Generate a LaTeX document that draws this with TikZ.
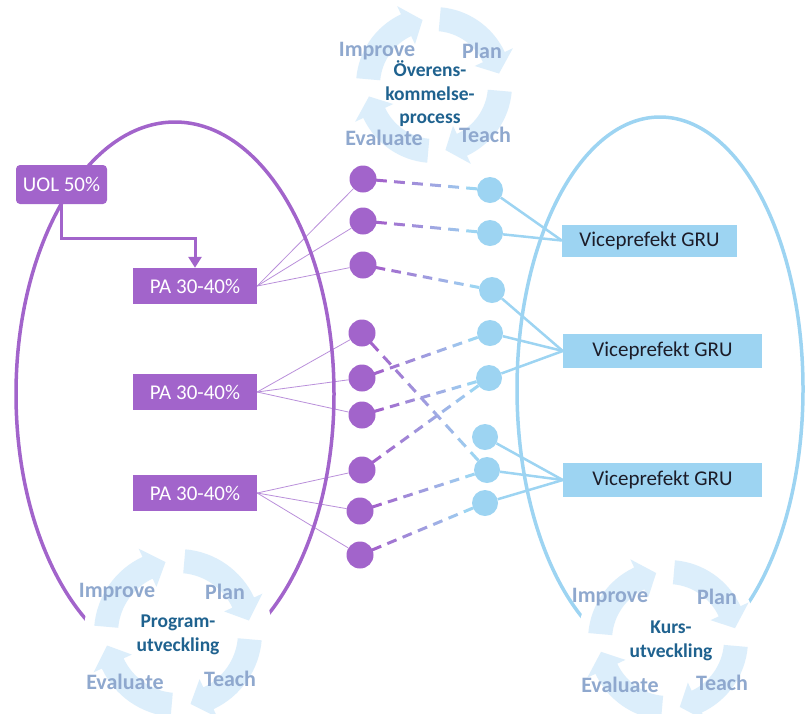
\documentclass[tikz,border=0pt]{standalone}
\usepackage{fontspec}
\setmainfont{Carlito}
\usetikzlibrary{calc,arrows.meta}
\definecolor{pur}{HTML}{A264CB}
\definecolor{lpur}{HTML}{B98FDA}
\definecolor{lblu}{HTML}{9DD4F2}
\definecolor{vtxt}{HTML}{1C1C28}
\definecolor{cfill}{HTML}{DCEEFB}
\definecolor{cgray}{HTML}{8FA8CE}
\definecolor{cdark}{HTML}{1F628F}
\pgfdeclarelayer{bg}
\pgfsetlayers{bg,main}
\tikzset{
	box_p/.style = {rectangle, fill=pur, text=white, inner sep=0pt,
		font=\fontsize{21}{25}\selectfont, minimum width=124pt, minimum height=36pt},% programansvarig
	box_b/.style = {rectangle, fill=lblu, text=vtxt, inner sep=0pt,
		font=\fontsize{21}{25}\selectfont, minimum width=199pt, minimum height=34pt},% viceprefekt
	dot_p/.style = {circle, fill=pur, minimum size=27pt, inner sep=0pt},% prick lila
	dot_b/.style = {circle, fill=lblu, minimum size=26pt, inner sep=0pt},% prick bla
	link_p/.style = {draw=lpur, line width=0.8pt},
	link_b/.style = {draw=lblu, line width=2.5pt},
	link_d/.style = {line width=3pt},
	cyc_arr/.style = {fill=cfill},
	cyc_lab/.style = {text=cgray, font=\bfseries\fontsize{22}{26}\selectfont},
	cyc_mid/.style = {text=cdark, align=center, font=\bfseries\fontsize{19.5}{23.5}\selectfont}
}
% fyra pilar runt ett centrum: x, y, radie
\newcommand{\cycarrows}[3]{%
	\pgfmathsetmacro\cRo{#3+12}\pgfmathsetmacro\cRi{#3-12}%
	\pgfmathsetmacro\cHo{#3+21}\pgfmathsetmacro\cHi{#3-21}%
	\fill[white] (#1,#2) circle[radius=#3pt+22pt];
	\foreach \a in {175,85,-5,-95}{
		\pgfmathsetmacro\angB{\a-60}\pgfmathsetmacro\angC{\a-75}
		\fill[cyc_arr, shift={(#1,#2)}] (\a:\cRo pt) arc[start angle=\a, end angle=\angB, radius=\cRo pt]
			-- (\angB:\cHo pt) -- (\angC:#3pt) -- (\angB:\cHi pt) -- (\angB:\cRi pt)
			arc[start angle=\angB, end angle=\a, radius=\cRi pt] -- cycle;
	}}
% streckad lank fran lila till bla prick
\newcommand{\dlink}[3]{%
	\coordinate (ls) at ($(#1)!13pt!(#2)$);
	\coordinate (le) at ($(#2)!13pt!(#1)$);
	\pgfmathtruncatemacro\nl{#3-1}
	\foreach \k in {0,...,\nl}{
		\pgfmathsetmacro\ta{\k/(#3-0.4)}
		\pgfmathsetmacro\tb{(\k+0.6)/(#3-0.4)}
		\pgfmathtruncatemacro\mx{100-100*\k/\nl}
		\draw[link_d, draw=pur!\mx!lblu] ($(ls)!\ta!(le)$) -- ($(ls)!\tb!(le)$);
	}}

\begin{document}
\begin{tikzpicture}[x=1pt, y=1pt, >={Triangle[width=13pt,length=11pt]}]
\useasboundingbox (0,0) rectangle (805,-713);

% ellipser
\draw[pur, line width=3.5pt] (175,-394) ellipse [x radius=159pt, y radius=272pt];
\draw[lblu, line width=3.5pt] (660,-389) ellipse [x radius=143pt, y radius=272pt];

% cykler
\cycarrows{434}{-85}{66}
\cycarrows{178}{-633}{72}
\cycarrows{668}{-640}{68}

\node[cyc_lab] (tImp) at (377,-51) {Improve};
\node[cyc_lab] (tPla) at (482,-51) {Plan};
\node[cyc_lab] (tTea) at (485,-135) {Teach};
\node[cyc_lab] (tEva) at (384,-138) {Evaluate};
\node[cyc_mid] (tMid) at (430,-94) {Överens-\\kommelse-\\process};

\node[cyc_lab] (lImp) at (117,-592) {Improve};
\node[cyc_lab] (lPla) at (225,-592) {Plan};
\node[cyc_lab] (lTea) at (230,-679) {Teach};
\node[cyc_lab] (lEva) at (125,-682) {Evaluate};
\node[cyc_mid] (lMid) at (178,-635) {Program-\\utveckling};

\node[cyc_lab] (rImp) at (610,-597) {Improve};
\node[cyc_lab] (rPla) at (717,-597) {Plan};
\node[cyc_lab] (rTea) at (722,-683) {Teach};
\node[cyc_lab] (rEva) at (620,-685) {Evaluate};
\node[cyc_mid] (rMid) at (671,-641) {Kurs-\\utveckling};

% rutor
\node[box_p, rounded corners=4pt, minimum width=91pt, minimum height=39pt] (uol) at (61.5,-184.5) {UOL 50\%};
\node[box_p] (pa1) at (195,-286) {PA 30-40\%};
\node[box_p] (pa2) at (195,-392) {PA 30-40\%};
\node[box_p] (pa3) at (195,-493) {PA 30-40\%};
\node[box_b, minimum width=175pt, minimum height=32pt] (vp1) at (649.5,-240.5) {Viceprefekt GRU};
\node[box_b] (vp2) at (662.5,-351) {Viceprefekt GRU};
\node[box_b] (vp3) at (662.5,-480) {Viceprefekt GRU};

\draw[pur, line width=3pt, ->] (uol.south) -- ++(0,-34) -| (pa1.north);

% prickar
\node[dot_p] (p1) at (363,-179) {};
\node[dot_p] (p2) at (363,-221) {};
\node[dot_p] (p3) at (363,-265) {};
\node[dot_p] (p4) at (362,-333) {};
\node[dot_p] (p5) at (362,-378) {};
\node[dot_p] (p6) at (362,-415) {};
\node[dot_p] (p7) at (362,-470) {};
\node[dot_p] (p8) at (360,-511) {};
\node[dot_p] (p9) at (360,-555) {};
\node[dot_b] (b1) at (490,-190) {};
\node[dot_b] (b2) at (490,-233) {};
\node[dot_b] (b3) at (492,-290) {};
\node[dot_b] (b4) at (490,-333) {};
\node[dot_b] (b5) at (489,-378) {};
\node[dot_b] (b6) at (485,-437) {};
\node[dot_b] (b7) at (487,-470) {};
\node[dot_b] (b8) at (485,-503) {};

\begin{pgfonlayer}{bg}
\foreach \p in {p1,p2,p3} \draw[link_p] (pa1.east) -- (\p);
\foreach \p in {p4,p5,p6} \draw[link_p] (pa2.east) -- (\p);
\foreach \p in {p7,p8,p9} \draw[link_p] (pa3.east) -- (\p);
\foreach \b in {b1,b2} \draw[link_b] (\b) -- (vp1.west);
\foreach \b in {b3,b4,b5} \draw[link_b] (\b) -- (vp2.west);
\foreach \b in {b6,b7,b8} \draw[link_b] (\b) -- (vp3.west);
\dlink{p1}{b1}{6}
\dlink{p2}{b2}{6}
\dlink{p3}{b3}{7}
\dlink{p4}{b7}{9}
\dlink{p5}{b4}{7}
\dlink{p6}{b5}{7}
\dlink{p7}{b5}{8}
\dlink{p8}{b7}{7}
\dlink{p9}{b8}{7}
\end{pgfonlayer}
\end{tikzpicture}
\end{document}
